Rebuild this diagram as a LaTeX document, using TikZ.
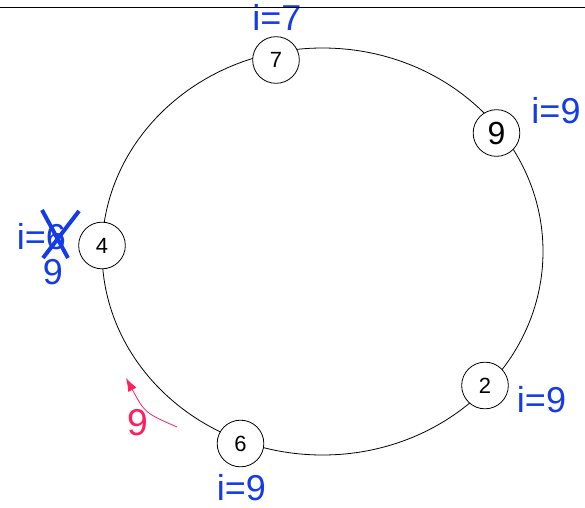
\documentclass[tikz,border=0pt]{standalone}
\usepackage{fontspec}
\setmainfont{Liberation Sans}
\usetikzlibrary{arrows.meta}
\definecolor{labelblue}{RGB}{20,60,230}
\definecolor{msgpink}{RGB}{255,30,95}
\begin{document}
\begin{tikzpicture}[x=0.75pt,y=-0.75pt,
    peer/.style={draw, circle, fill=white, line width=0.6pt, minimum size=35pt, inner sep=0pt, font=\fontsize{16.5}{16.5}\selectfont},
    idlabel/.style={text=labelblue, inner sep=0pt, font=\fontsize{27}{27}\selectfont}]
    \useasboundingbox (0,0) rectangle (585,507);
    % Ring
    \draw[line width=0.6pt] (322.5,251.5) ellipse [x radius=220.5, y radius=203.5];
    % Peers
    \node[peer] (n7) at (276,60) {7};
    \node[peer, font=\fontsize{24}{24}\selectfont] (n9) at (496.5,133) {9};
    \node[peer] (n4) at (102,245.5) {4};
    \node[peer] (n2) at (485,385.5) {2};
    \node[peer] (n6) at (240.5,443.5) {6};
    % Labels
    \node[idlabel] (l7) at (277,17) {i=7};
    \node[idlabel] (l9) at (556,111) {i=9};
    \node[idlabel] (l2) at (541.5,399.5) {i=9};
    \node[idlabel] (l6) at (241.5,488) {i=9};
    \node[idlabel] (l4) at (41.5,236.5) {i=6};
    \node[idlabel] (l4new) at (53,272.5) {9};
    % Crossed out
    \draw[labelblue, line width=3pt] (42,210) -- (68,258);
    \draw[labelblue, line width=3pt] (79,211) -- (43,258);
    % Message
    \coordinate (msgstart) at (177,427);
    \coordinate (msgend) at (126,378);
    \draw[msgpink, line width=0.6pt, -{Latex[length=10pt,width=7pt]}] (msgstart) .. controls (145,413) .. (msgend);
    \node[text=msgpink, inner sep=0pt, font=\fontsize{28}{28}\selectfont] (msg) at (137.5,422.5) {9};
    % Top rule
    \draw[line width=1.4pt] (0,7.5) -- (585,7.5);
\end{tikzpicture}
\end{document}
